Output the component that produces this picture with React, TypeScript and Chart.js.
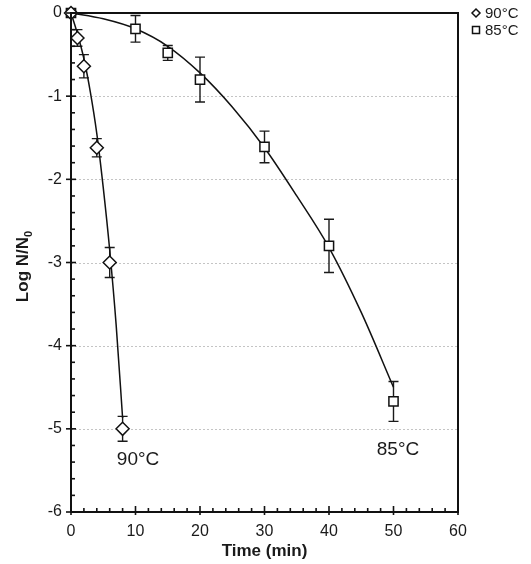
import React, { useEffect, useRef } from "react";
import { Chart, registerables } from "chart.js";

Chart.register(...registerables);

// ---- data ----
const time90 = [0, 1, 2, 4, 6, 8];
const log90 = [0, -0.3, -0.64, -1.62, -3.0, -5.0];
const err90 = [0, 0.1, 0.14, 0.11, 0.18, 0.15];

const time85 = [0, 10, 15, 20, 30, 40, 50];
const log85 = [0, -0.19, -0.48, -0.8, -1.61, -2.8, -4.67];
const err85 = [0, 0.16, 0.09, 0.27, 0.19, 0.32, 0.24];

// fitted curves
const fitTime90 = [0, 1, 2, 3, 4, 5, 6, 7, 8];
const fitLog90 = [0, -0.25, -0.55, -0.95, -1.45, -2.1, -2.85, -3.75, -4.87];
const fitTime85 = [0, 5, 10, 15, 20, 25, 30, 35, 40, 45, 50];
const fitLog85 = [0, -0.07, -0.19, -0.4, -0.72, -1.13, -1.62, -2.2, -2.82, -3.6, -4.5];

const seriesNames = ["90°C", "85°C"];
const xTitle = "Time (min)";
const yTitleMain = "Log N/N";
const yTitleSub = "0";

const FONT = "'Liberation Sans', Arial, Helvetica, sans-serif";

const toXY = (xs: number[], ys: number[]) => xs.map((x, i) => ({ x, y: ys[i] }));

const decoPlugin = {
  id: "deco",
  beforeDatasetsDraw(chart: any) {
    const { ctx, chartArea: a, scales } = chart;
    const x = scales.x;
    const y = scales.y;
    ctx.save();
    // dotted grid lines
    ctx.strokeStyle = "#c4c4c4";
    ctx.lineWidth = 1;
    ctx.setLineDash([2, 2]);
    for (let v = -5; v <= -1; v++) {
      const py = Math.round(y.getPixelForValue(v)) + 0.5;
      ctx.beginPath();
      ctx.moveTo(a.left, py);
      ctx.lineTo(a.right, py);
      ctx.stroke();
    }
    ctx.setLineDash([]);
    // error bars
    ctx.strokeStyle = "#1a1a1a";
    ctx.lineWidth = 1.4;
    const bars = (ts: number[], vs: number[], es: number[]) => {
      ts.forEach((t, i) => {
        if (!es[i]) return;
        const px = x.getPixelForValue(t);
        const top = y.getPixelForValue(vs[i] + es[i]);
        const bot = y.getPixelForValue(vs[i] - es[i]);
        ctx.beginPath();
        ctx.moveTo(px, top);
        ctx.lineTo(px, bot);
        ctx.moveTo(px - 5, top);
        ctx.lineTo(px + 5, top);
        ctx.moveTo(px - 5, bot);
        ctx.lineTo(px + 5, bot);
        ctx.stroke();
      });
    };
    bars(time90, log90, err90);
    bars(time85, log85, err85);
    ctx.restore();
  },
  afterDraw(chart: any) {
    const { ctx, chartArea: a, scales } = chart;
    const x = scales.x;
    const y = scales.y;
    ctx.save();
    ctx.strokeStyle = "#111";
    ctx.lineWidth = 2;
    ctx.strokeRect(a.left, a.top, a.right - a.left, a.bottom - a.top);
    // ticks
    ctx.lineWidth = 1.6;
    for (let k = 0; k <= 30; k++) {
      const v = -6 + k * 0.2;
      const py = y.getPixelForValue(v);
      const major = k % 5 === 0;
      ctx.beginPath();
      ctx.moveTo(major ? a.left - 5 : a.left, py);
      ctx.lineTo(a.left + (major ? 5 : 4), py);
      ctx.stroke();
    }
    for (let k = 0; k <= 30; k++) {
      const v = k * 2;
      const px = x.getPixelForValue(v);
      const major = k % 5 === 0;
      ctx.beginPath();
      ctx.moveTo(px, major ? a.bottom + 3 : a.bottom);
      ctx.lineTo(px, a.bottom - (major ? 6 : 4));
      ctx.stroke();
    }
    // redraw origin markers on top of the frame
    // axis titles
    ctx.fillStyle = "#1a1a1a";
    ctx.font = `bold 17px ${FONT}`;
    ctx.textAlign = "center";
    ctx.textBaseline = "middle";
    ctx.fillText(xTitle, (a.left + a.right) / 2, 551);
    ctx.save();
    ctx.translate(22, (a.top + a.bottom) / 2 + 4);
    ctx.rotate(-Math.PI / 2);
    ctx.font = `bold 17px ${FONT}`;
    const w1 = ctx.measureText(yTitleMain).width;
    ctx.font = `bold 11px ${FONT}`;
    const w2 = ctx.measureText(yTitleSub).width;
    const start = -(w1 + w2) / 2;
    ctx.textAlign = "left";
    ctx.textBaseline = "alphabetic";
    ctx.font = `bold 17px ${FONT}`;
    ctx.fillText(yTitleMain, start, 6);
    ctx.font = `bold 11px ${FONT}`;
    ctx.fillText(yTitleSub, start + w1, 10);
    ctx.restore();
    // curve labels
    ctx.font = `19px ${FONT}`;
    ctx.textAlign = "center";
    ctx.textBaseline = "middle";
    ctx.fillText(seriesNames[0], x.getPixelForValue(10.4), y.getPixelForValue(-5.37));
    ctx.fillText(seriesNames[1], x.getPixelForValue(50.7), y.getPixelForValue(-5.25));
    // legend
    ctx.lineWidth = 1.5;
    ctx.strokeStyle = "#111";
    ctx.fillStyle = "#fff";
    const lx = 476;
    ctx.beginPath();
    ctx.moveTo(lx, 9);
    ctx.lineTo(lx + 4, 13);
    ctx.lineTo(lx, 17);
    ctx.lineTo(lx - 4, 13);
    ctx.closePath();
    ctx.fill();
    ctx.stroke();
    ctx.beginPath();
    ctx.rect(lx - 3.5, 26.5, 7, 7);
    ctx.fill();
    ctx.stroke();
    ctx.fillStyle = "#1a1a1a";
    ctx.font = `15px ${FONT}`;
    ctx.textAlign = "left";
    ctx.textBaseline = "middle";
    ctx.fillText(seriesNames[0], lx + 9, 14);
    ctx.fillText(seriesNames[1], lx + 9, 31);
    ctx.restore();
  },
};

export default function App() {
  const ref = useRef<HTMLCanvasElement | null>(null);
  useEffect(() => {
    if (!ref.current) return;
    const chart = new Chart(ref.current, {
      type: "line",
      data: {
        datasets: [
          {
            label: seriesNames[0],
            data: toXY(time90, log90),
            showLine: false,
            pointStyle: "rectRot",
            pointRadius: 6.5,
            pointBackgroundColor: "#fff",
            pointBorderColor: "#111",
            pointBorderWidth: 1.5,
            clip: false,
            order: 0,
          },
          {
            label: seriesNames[1],
            data: toXY(time85, log85),
            showLine: false,
            pointStyle: "rect",
            pointRadius: 6.5,
            pointBackgroundColor: "#fff",
            pointBorderColor: "#111",
            pointBorderWidth: 1.5,
            clip: false,
            order: 1,
          },
          {
            label: "fit90",
            data: toXY(fitTime90, fitLog90),
            borderColor: "#111",
            borderWidth: 1.5,
            pointRadius: 0,
            tension: 0.4,
            cubicInterpolationMode: "monotone",
            fill: false,
            order: 2,
          },
          {
            label: "fit85",
            data: toXY(fitTime85, fitLog85),
            borderColor: "#111",
            borderWidth: 1.5,
            pointRadius: 0,
            tension: 0.4,
            cubicInterpolationMode: "monotone",
            fill: false,
            order: 3,
          },
        ],
      },
      options: {
        responsive: false,
        animation: false,
        layout: { padding: { top: 13, right: 73, left: 0, bottom: 0 } },
        plugins: { legend: { display: false }, tooltip: { enabled: false } },
        scales: {
          x: {
            type: "linear",
            min: 0,
            max: 60,
            grid: { display: false, drawTicks: false },
            border: { display: false },
            ticks: { stepSize: 10, padding: 10, color: "#1a1a1a", font: { family: FONT, size: 16 } },
            afterFit: (s: any) => {
              s.height = 52;
              s.paddingLeft = 0;
              s.paddingRight = 0;
            },
          },
          y: {
            type: "linear",
            min: -6,
            max: 0,
            grid: { display: false, drawTicks: false },
            border: { display: false },
            ticks: { stepSize: 1, padding: 9, color: "#1a1a1a", font: { family: FONT, size: 16 } },
            afterFit: (s: any) => {
              s.width = 71;
              s.paddingTop = 0;
              s.paddingBottom = 0;
            },
          },
        },
      },
      plugins: [decoPlugin],
    } as any);
    return () => chart.destroy();
  }, []);
  return (
    <div style={{ position: "absolute", left: 0, top: 0, width: 531, height: 564, background: "#fff" }}>
      <canvas ref={ref} width={531} height={564} />
    </div>
  );
}
